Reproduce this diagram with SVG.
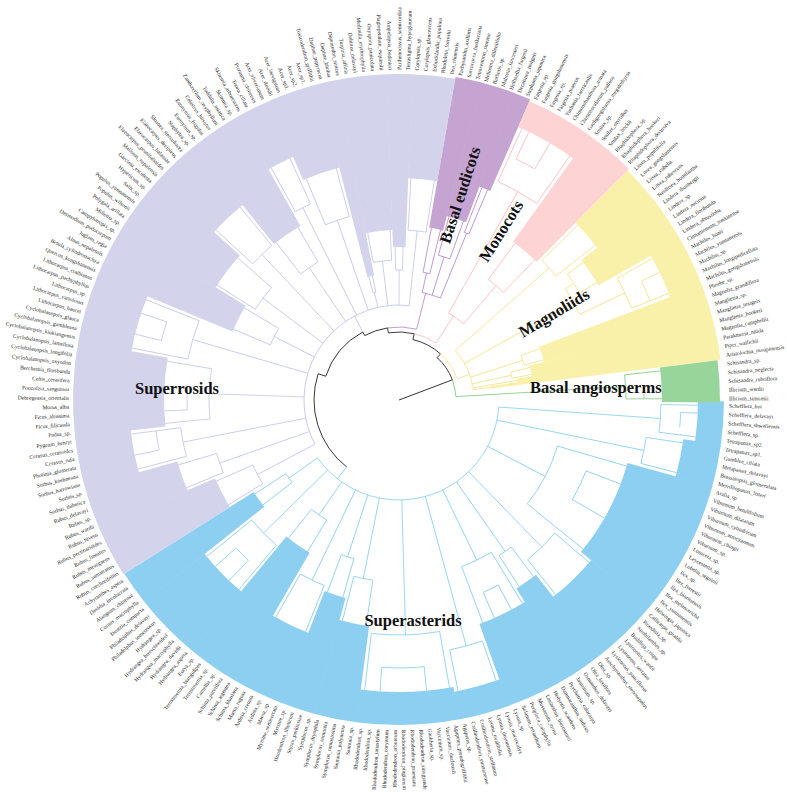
<svg xmlns="http://www.w3.org/2000/svg" width="787" height="795" viewBox="0 0 787 795">
<style>
.zb{fill:none;stroke:#8dcff0}
.zl{fill:none;stroke:#d3d3ec}
.zp{fill:none;stroke:#c6a4d1}
.zk{fill:none;stroke:#fdd3d4}
.zy{fill:none;stroke:#f9f0aa}
.zg{fill:none;stroke:#98d59a}
.e line,.e circle{fill:none;stroke-width:0.8}
.kb{stroke:#86cdef}
.kl{stroke:#c4c5ea}
.kp{stroke:#b48ccc}
.kk{stroke:#fbbcbd}
.ky{stroke:#f2e38c}
.kg{stroke:#7ec980}
.k0{stroke:#1a1a1a}
.tl text{font-family:"Liberation Serif","Times New Roman",serif;font-size:5.6px;fill:#262626;dominant-baseline:central}
.tl text.l{text-anchor:end}
.cl{font-family:"Liberation Serif","Times New Roman",serif;font-weight:bold;font-size:16.5px;fill:#111}
</style>
<rect width="787" height="795" fill="#fff"/>
<g transform="translate(399,400)">
<g id="clade-superasterids">
<circle class="zb" r="312" stroke-width="26" pathLength="360" stroke-dasharray="7.7 999" transform="rotate(0.24)"/>
<circle class="zb" r="306" stroke-width="38" pathLength="360" stroke-dasharray="7.7 999" transform="rotate(7.84)"/>
<circle class="zb" r="281" stroke-width="88" pathLength="360" stroke-dasharray="24.42 999" transform="rotate(15.44)"/>
<circle class="zb" r="287.5" stroke-width="75" pathLength="360" stroke-dasharray="12.26 999" transform="rotate(39.76)"/>
<circle class="zb" r="273.5" stroke-width="103" pathLength="360" stroke-dasharray="6.18 999" transform="rotate(51.92)"/>
<circle class="zb" r="281.5" stroke-width="87" pathLength="360" stroke-dasharray="12.26 999" transform="rotate(58)"/>
<circle class="zb" r="311" stroke-width="28" pathLength="360" stroke-dasharray="9.22 999" transform="rotate(70.16)"/>
<circle class="zb" r="308.5" stroke-width="33" pathLength="360" stroke-dasharray="18.34 999" transform="rotate(79.28)"/>
<circle class="zb" r="276.5" stroke-width="97" pathLength="360" stroke-dasharray="7.7 999" transform="rotate(97.52)"/>
<circle class="zb" r="265" stroke-width="120" pathLength="360" stroke-dasharray="6.18 999" transform="rotate(105.12)"/>
<circle class="zb" r="287.5" stroke-width="75" pathLength="360" stroke-dasharray="9.22 999" transform="rotate(111.2)"/>
<circle class="zb" r="251" stroke-width="148" pathLength="360" stroke-dasharray="9.22 999" transform="rotate(120.32)"/>
<circle class="zb" r="286.5" stroke-width="77" pathLength="360" stroke-dasharray="12.26 999" transform="rotate(129.44)"/>
<circle class="zb" r="248.5" stroke-width="153" pathLength="360" stroke-dasharray="6.08 999" transform="rotate(141.6)"/>
</g>
<g id="clade-superrosids">
<circle class="zl" r="263" stroke-width="126" pathLength="360" stroke-dasharray="9.22 999" transform="rotate(147.68)"/>
<circle class="zl" r="278" stroke-width="96" pathLength="360" stroke-dasharray="7.7 999" transform="rotate(156.8)"/>
<circle class="zl" r="298" stroke-width="56" pathLength="360" stroke-dasharray="9.22 999" transform="rotate(164.4)"/>
<circle class="zl" r="280.5" stroke-width="91" pathLength="360" stroke-dasharray="16.82 999" transform="rotate(173.52)"/>
<circle class="zl" r="299" stroke-width="54" pathLength="360" stroke-dasharray="12.26 999" transform="rotate(190.24)"/>
<circle class="zl" r="253" stroke-width="146" pathLength="360" stroke-dasharray="9.22 999" transform="rotate(202.4)"/>
<circle class="zl" r="270.5" stroke-width="111" pathLength="360" stroke-dasharray="10.74 999" transform="rotate(211.52)"/>
<circle class="zl" r="288" stroke-width="76" pathLength="360" stroke-dasharray="9.22 999" transform="rotate(222.16)"/>
<circle class="zl" r="263" stroke-width="126" pathLength="360" stroke-dasharray="9.22 999" transform="rotate(231.28)"/>
<circle class="zl" r="295.5" stroke-width="61" pathLength="360" stroke-dasharray="6.18 999" transform="rotate(240.4)"/>
<circle class="zl" r="283" stroke-width="86" pathLength="360" stroke-dasharray="9.22 999" transform="rotate(246.48)"/>
<circle class="zl" r="226.5" stroke-width="199" pathLength="360" stroke-dasharray="3.14 999" transform="rotate(255.6)"/>
<circle class="zl" r="248" stroke-width="156" pathLength="360" stroke-dasharray="9.22 999" transform="rotate(258.64)"/>
<circle class="zl" r="239.5" stroke-width="173" pathLength="360" stroke-dasharray="4.66 999" transform="rotate(267.76)"/>
<circle class="zl" r="274" stroke-width="104" pathLength="360" stroke-dasharray="7.6 999" transform="rotate(272.32)"/>
</g>
<g id="clade-basal-eudicots">
<circle class="zp" r="251.5" stroke-width="153" pathLength="360" stroke-dasharray="4.66 999" transform="rotate(279.92)"/>
<circle class="zp" r="259" stroke-width="138" pathLength="360" stroke-dasharray="6.18 999" transform="rotate(284.48)"/>
<circle class="zp" r="278" stroke-width="100" pathLength="360" stroke-dasharray="3.04 999" transform="rotate(290.56)"/>
</g>
<g id="clade-monocots">
<circle class="zk" r="312" stroke-width="28" pathLength="360" stroke-dasharray="12.26 999" transform="rotate(293.6)"/>
<circle class="zk" r="260.5" stroke-width="131" pathLength="360" stroke-dasharray="9.12 999" transform="rotate(305.76)"/>
</g>
<g id="clade-magnoliids">
<circle class="zy" r="287" stroke-width="74" pathLength="360" stroke-dasharray="7.7 999" transform="rotate(314.88)"/>
<circle class="zy" r="277" stroke-width="94" pathLength="360" stroke-dasharray="7.7 999" transform="rotate(322.48)"/>
<circle class="zy" r="307" stroke-width="34" pathLength="360" stroke-dasharray="9.22 999" transform="rotate(330.08)"/>
<circle class="zy" r="237" stroke-width="174" pathLength="360" stroke-dasharray="6.18 999" transform="rotate(339.2)"/>
<circle class="zy" r="229.5" stroke-width="189" pathLength="360" stroke-dasharray="4.66 999" transform="rotate(345.28)"/>
<circle class="zy" r="222" stroke-width="204" pathLength="360" stroke-dasharray="1.62 999" transform="rotate(349.84)"/>
<circle class="zy" r="208.5" stroke-width="231" pathLength="360" stroke-dasharray="1.52 999" transform="rotate(351.36)"/>
</g>
<g id="clade-basal-angiosperms">
<circle class="zg" r="292" stroke-width="58" pathLength="360" stroke-dasharray="7.6 999" transform="rotate(352.88)"/>
</g>
<g id="edges" class="e">
<line class="k0" x1="0" x2="57" transform="rotate(339.3)"/>
<circle class="k0" r="57" pathLength="360" stroke-dasharray="27.3 999" transform="rotate(312)"/>
<line class="k0" x1="57" x2="62" transform="rotate(312)"/>
<circle class="k0" r="62" pathLength="360" stroke-dasharray="29 999" transform="rotate(283)"/>
<line class="k0" x1="62" x2="68" transform="rotate(283)"/>
<circle class="k0" r="68" pathLength="360" stroke-dasharray="22 999" transform="rotate(261)"/>
<line class="k0" x1="68" x2="73" transform="rotate(261)"/>
<circle class="k0" r="73" pathLength="360" stroke-dasharray="19 999" transform="rotate(242)"/>
<line class="k0" x1="73" x2="77" transform="rotate(242)"/>
<circle class="k0" r="77" pathLength="360" stroke-dasharray="44 999" transform="rotate(198)"/>
<line class="k0" x1="77" x2="85" transform="rotate(198)"/>
<circle class="k0" r="85" pathLength="360" stroke-dasharray="70 999" transform="rotate(128)"/>
<circle class="kg" r="57" pathLength="360" stroke-dasharray="17.3 999" transform="rotate(339.3)"/>
<line class="kg" x1="57" x2="227" transform="rotate(356.6)"/>
<circle class="kg" r="227" pathLength="360" stroke-dasharray="6.08 999" transform="rotate(353.64)"/>
<line class="kg" x1="227" x2="263" transform="rotate(353.64)"/>
<line class="kg" x1="227" x2="263" transform="rotate(359.72)"/>
<circle class="kg" r="245" pathLength="360" stroke-dasharray="3.04 999" transform="rotate(356.68)"/>
<circle class="ky" r="62" pathLength="360" stroke-dasharray="28 999" transform="rotate(312)"/>
<line class="ky" x1="62" x2="75" transform="rotate(340)"/>
<circle class="ky" r="75" pathLength="360" stroke-dasharray="33.44 999" transform="rotate(318.68)"/>
<line class="ky" x1="75" x2="200" transform="rotate(318.68)"/>
<circle class="ky" r="200" pathLength="360" stroke-dasharray="6.08 999" transform="rotate(315.64)"/>
<line class="ky" x1="200" x2="250" transform="rotate(315.64)"/>
<line class="ky" x1="200" x2="250" transform="rotate(321.72)"/>
<line class="ky" x1="75" x2="200" transform="rotate(330.84)"/>
<circle class="ky" r="200" pathLength="360" stroke-dasharray="8.36 999" transform="rotate(326.28)"/>
<line class="ky" x1="200" x2="210" transform="rotate(326.28)"/>
<circle class="ky" r="210" pathLength="360" stroke-dasharray="6.08 999" transform="rotate(323.24)"/>
<line class="ky" x1="210" x2="230" transform="rotate(323.24)"/>
<line class="ky" x1="210" x2="230" transform="rotate(329.32)"/>
<line class="ky" x1="200" x2="250" transform="rotate(334.64)"/>
<circle class="ky" r="250" pathLength="360" stroke-dasharray="7.6 999" transform="rotate(330.84)"/>
<line class="ky" x1="250" x2="290" transform="rotate(330.84)"/>
<line class="ky" x1="250" x2="290" transform="rotate(338.44)"/>
<circle class="ky" r="270" pathLength="360" stroke-dasharray="4.56 999" transform="rotate(333.88)"/>
<line class="ky" x1="270" x2="290" transform="rotate(333.88)"/>
<line class="ky" x1="75" x2="130" transform="rotate(342.24)"/>
<circle class="ky" r="130" pathLength="360" stroke-dasharray="4.56 999" transform="rotate(339.96)"/>
<line class="ky" x1="130" x2="150" transform="rotate(339.96)"/>
<line class="ky" x1="130" x2="150" transform="rotate(344.52)"/>
<line class="ky" x1="75" x2="115" transform="rotate(347.56)"/>
<circle class="ky" r="115" pathLength="360" stroke-dasharray="3.04 999" transform="rotate(346.04)"/>
<line class="ky" x1="115" x2="135" transform="rotate(346.04)"/>
<line class="ky" x1="115" x2="135" transform="rotate(349.08)"/>
<line class="ky" x1="75" x2="120" transform="rotate(350.6)"/>
<line class="ky" x1="75" x2="93" transform="rotate(352.12)"/>
<circle class="kk" r="68" pathLength="360" stroke-dasharray="20 999" transform="rotate(283)"/>
<line class="kk" x1="68" x2="100" transform="rotate(303)"/>
<circle class="kk" r="100" pathLength="360" stroke-dasharray="10.64 999" transform="rotate(299.68)"/>
<line class="kk" x1="100" x2="240" transform="rotate(299.68)"/>
<circle class="kk" r="240" pathLength="360" stroke-dasharray="10.64 999" transform="rotate(294.36)"/>
<line class="kk" x1="240" x2="298" transform="rotate(294.36)"/>
<line class="kk" x1="240" x2="298" transform="rotate(305)"/>
<circle class="kk" r="268" pathLength="360" stroke-dasharray="4.56 999" transform="rotate(295.88)"/>
<line class="kk" x1="268" x2="298" transform="rotate(295.88)"/>
<line class="kk" x1="268" x2="298" transform="rotate(300.44)"/>
<line class="kk" x1="100" x2="150" transform="rotate(310.32)"/>
<circle class="kk" r="150" pathLength="360" stroke-dasharray="7.6 999" transform="rotate(306.52)"/>
<line class="kk" x1="150" x2="195" transform="rotate(306.52)"/>
<line class="kk" x1="150" x2="195" transform="rotate(314.12)"/>
<circle class="kp" r="73" pathLength="360" stroke-dasharray="23 999" transform="rotate(261)"/>
<line class="kp" x1="73" x2="110" transform="rotate(284)"/>
<circle class="kp" r="110" pathLength="360" stroke-dasharray="9.88 999" transform="rotate(282.2)"/>
<line class="kp" x1="110" x2="130" transform="rotate(282.2)"/>
<circle class="kp" r="130" pathLength="360" stroke-dasharray="3.04 999" transform="rotate(280.68)"/>
<line class="kp" x1="130" x2="175" transform="rotate(280.68)"/>
<line class="kp" x1="130" x2="175" transform="rotate(283.72)"/>
<line class="kp" x1="110" x2="150" transform="rotate(287.52)"/>
<circle class="kp" r="150" pathLength="360" stroke-dasharray="4.56 999" transform="rotate(285.24)"/>
<line class="kp" x1="150" x2="190" transform="rotate(285.24)"/>
<line class="kp" x1="150" x2="190" transform="rotate(289.8)"/>
<line class="kp" x1="110" x2="180" transform="rotate(292.08)"/>
<circle class="kp" r="180" pathLength="360" stroke-dasharray="1.52 999" transform="rotate(291.32)"/>
<line class="kp" x1="180" x2="228" transform="rotate(291.32)"/>
<line class="kp" x1="180" x2="228" transform="rotate(292.84)"/>
<line class="kl" x1="77" x2="95" transform="rotate(242)"/>
<circle class="kl" r="95" pathLength="360" stroke-dasharray="123.88 999" transform="rotate(152.24)"/>
<line class="kl" x1="95" x2="160" transform="rotate(152.24)"/>
<circle class="kl" r="160" pathLength="360" stroke-dasharray="7.6 999" transform="rotate(148.44)"/>
<line class="kl" x1="160" x2="200" transform="rotate(148.44)"/>
<line class="kl" x1="160" x2="200" transform="rotate(156.04)"/>
<line class="kl" x1="95" x2="190" transform="rotate(160.6)"/>
<circle class="kl" r="190" pathLength="360" stroke-dasharray="6.08 999" transform="rotate(157.56)"/>
<line class="kl" x1="190" x2="230" transform="rotate(157.56)"/>
<line class="kl" x1="190" x2="230" transform="rotate(163.64)"/>
<line class="kl" x1="95" x2="220" transform="rotate(168.96)"/>
<circle class="kl" r="220" pathLength="360" stroke-dasharray="7.6 999" transform="rotate(165.16)"/>
<line class="kl" x1="220" x2="270" transform="rotate(165.16)"/>
<line class="kl" x1="220" x2="270" transform="rotate(172.76)"/>
<circle class="kl" r="245" pathLength="360" stroke-dasharray="4.56 999" transform="rotate(168.2)"/>
<line class="kl" x1="245" x2="270" transform="rotate(168.2)"/>
<line class="kl" x1="95" x2="190" transform="rotate(181.88)"/>
<circle class="kl" r="190" pathLength="360" stroke-dasharray="15.2 999" transform="rotate(174.28)"/>
<line class="kl" x1="190" x2="235" transform="rotate(174.28)"/>
<line class="kl" x1="190" x2="235" transform="rotate(189.48)"/>
<circle class="kl" r="212" pathLength="360" stroke-dasharray="6.08 999" transform="rotate(177.32)"/>
<line class="kl" x1="212" x2="235" transform="rotate(177.32)"/>
<line class="kl" x1="212" x2="235" transform="rotate(183.4)"/>
<line class="kl" x1="95" x2="215" transform="rotate(196.32)"/>
<circle class="kl" r="215" pathLength="360" stroke-dasharray="10.64 999" transform="rotate(191)"/>
<line class="kl" x1="215" x2="272" transform="rotate(191)"/>
<line class="kl" x1="215" x2="272" transform="rotate(201.64)"/>
<circle class="kl" r="245" pathLength="360" stroke-dasharray="4.56 999" transform="rotate(194.04)"/>
<line class="kl" x1="245" x2="272" transform="rotate(194.04)"/>
<line class="kl" x1="245" x2="272" transform="rotate(198.6)"/>
<line class="kl" x1="95" x2="140" transform="rotate(206.96)"/>
<circle class="kl" r="140" pathLength="360" stroke-dasharray="7.6 999" transform="rotate(203.16)"/>
<line class="kl" x1="140" x2="180" transform="rotate(203.16)"/>
<line class="kl" x1="140" x2="180" transform="rotate(210.76)"/>
<line class="kl" x1="95" x2="170" transform="rotate(216.84)"/>
<circle class="kl" r="170" pathLength="360" stroke-dasharray="9.12 999" transform="rotate(212.28)"/>
<line class="kl" x1="170" x2="215" transform="rotate(212.28)"/>
<line class="kl" x1="170" x2="215" transform="rotate(221.4)"/>
<line class="kl" x1="95" x2="200" transform="rotate(226.72)"/>
<circle class="kl" r="200" pathLength="360" stroke-dasharray="7.6 999" transform="rotate(222.92)"/>
<line class="kl" x1="200" x2="250" transform="rotate(222.92)"/>
<line class="kl" x1="200" x2="250" transform="rotate(230.52)"/>
<line class="kl" x1="95" x2="160" transform="rotate(235.84)"/>
<circle class="kl" r="160" pathLength="360" stroke-dasharray="7.6 999" transform="rotate(232.04)"/>
<line class="kl" x1="160" x2="200" transform="rotate(232.04)"/>
<line class="kl" x1="160" x2="200" transform="rotate(239.64)"/>
<line class="kl" x1="95" x2="215" transform="rotate(243.44)"/>
<circle class="kl" r="215" pathLength="360" stroke-dasharray="4.56 999" transform="rotate(241.16)"/>
<line class="kl" x1="215" x2="265" transform="rotate(241.16)"/>
<line class="kl" x1="215" x2="265" transform="rotate(245.72)"/>
<line class="kl" x1="95" x2="190" transform="rotate(251.04)"/>
<circle class="kl" r="190" pathLength="360" stroke-dasharray="7.6 999" transform="rotate(247.24)"/>
<line class="kl" x1="190" x2="240" transform="rotate(247.24)"/>
<line class="kl" x1="190" x2="240" transform="rotate(254.84)"/>
<line class="kl" x1="95" x2="110" transform="rotate(257.12)"/>
<circle class="kl" r="110" pathLength="360" stroke-dasharray="1.52 999" transform="rotate(256.36)"/>
<line class="kl" x1="110" x2="127" transform="rotate(256.36)"/>
<line class="kl" x1="110" x2="127" transform="rotate(257.88)"/>
<line class="kl" x1="95" x2="140" transform="rotate(263.2)"/>
<circle class="kl" r="140" pathLength="360" stroke-dasharray="7.6 999" transform="rotate(259.4)"/>
<line class="kl" x1="140" x2="170" transform="rotate(259.4)"/>
<line class="kl" x1="140" x2="170" transform="rotate(267)"/>
<line class="kl" x1="95" x2="130" transform="rotate(270.04)"/>
<circle class="kl" r="130" pathLength="360" stroke-dasharray="3.04 999" transform="rotate(268.52)"/>
<line class="kl" x1="130" x2="153" transform="rotate(268.52)"/>
<line class="kl" x1="130" x2="153" transform="rotate(271.56)"/>
<line class="kl" x1="95" x2="170" transform="rotate(276.12)"/>
<circle class="kl" r="170" pathLength="360" stroke-dasharray="6.08 999" transform="rotate(273.08)"/>
<line class="kl" x1="170" x2="222" transform="rotate(273.08)"/>
<line class="kl" x1="170" x2="222" transform="rotate(279.16)"/>
<line class="kb" x1="85" x2="100" transform="rotate(128)"/>
<circle class="kb" r="100" pathLength="360" stroke-dasharray="140.6 999" transform="rotate(4.04)"/>
<line class="kb" x1="100" x2="262" transform="rotate(4.04)"/>
<circle class="kb" r="262" pathLength="360" stroke-dasharray="6.08 999" transform="rotate(1)"/>
<line class="kb" x1="262" x2="299" transform="rotate(1)"/>
<line class="kb" x1="262" x2="299" transform="rotate(7.08)"/>
<circle class="kb" r="282" pathLength="360" stroke-dasharray="3.04 999" transform="rotate(2.52)"/>
<line class="kb" x1="282" x2="299" transform="rotate(2.52)"/>
<line class="kb" x1="100" x2="250" transform="rotate(11.64)"/>
<circle class="kb" r="250" pathLength="360" stroke-dasharray="6.08 999" transform="rotate(8.6)"/>
<line class="kb" x1="250" x2="287" transform="rotate(8.6)"/>
<line class="kb" x1="250" x2="287" transform="rotate(14.68)"/>
<line class="kb" x1="100" x2="165" transform="rotate(27.6)"/>
<circle class="kb" r="165" pathLength="360" stroke-dasharray="22.8 999" transform="rotate(16.2)"/>
<line class="kb" x1="165" x2="237" transform="rotate(16.2)"/>
<line class="kb" x1="165" x2="237" transform="rotate(39)"/>
<circle class="kb" r="200" pathLength="360" stroke-dasharray="9.12 999" transform="rotate(20.76)"/>
<line class="kb" x1="200" x2="237" transform="rotate(20.76)"/>
<line class="kb" x1="200" x2="237" transform="rotate(29.88)"/>
<line class="kb" x1="100" x2="205" transform="rotate(45.84)"/>
<circle class="kb" r="205" pathLength="360" stroke-dasharray="10.64 999" transform="rotate(40.52)"/>
<line class="kb" x1="205" x2="250" transform="rotate(40.52)"/>
<line class="kb" x1="205" x2="250" transform="rotate(51.16)"/>
<line class="kb" x1="100" x2="185" transform="rotate(54.96)"/>
<circle class="kb" r="185" pathLength="360" stroke-dasharray="4.56 999" transform="rotate(52.68)"/>
<line class="kb" x1="185" x2="222" transform="rotate(52.68)"/>
<line class="kb" x1="185" x2="222" transform="rotate(57.24)"/>
<line class="kb" x1="100" x2="178" transform="rotate(64.08)"/>
<circle class="kb" r="178" pathLength="360" stroke-dasharray="10.64 999" transform="rotate(58.76)"/>
<line class="kb" x1="178" x2="238" transform="rotate(58.76)"/>
<line class="kb" x1="178" x2="238" transform="rotate(69.4)"/>
<circle class="kb" r="210" pathLength="360" stroke-dasharray="4.56 999" transform="rotate(61.8)"/>
<line class="kb" x1="210" x2="238" transform="rotate(61.8)"/>
<line class="kb" x1="210" x2="238" transform="rotate(66.36)"/>
<line class="kb" x1="100" x2="255" transform="rotate(74.72)"/>
<circle class="kb" r="255" pathLength="360" stroke-dasharray="7.6 999" transform="rotate(70.92)"/>
<line class="kb" x1="255" x2="297" transform="rotate(70.92)"/>
<line class="kb" x1="255" x2="297" transform="rotate(78.52)"/>
<line class="kb" x1="100" x2="235" transform="rotate(88.4)"/>
<circle class="kb" r="235" pathLength="360" stroke-dasharray="16.72 999" transform="rotate(80.04)"/>
<line class="kb" x1="235" x2="292" transform="rotate(80.04)"/>
<line class="kb" x1="235" x2="292" transform="rotate(96.76)"/>
<circle class="kb" r="268" pathLength="360" stroke-dasharray="9.12 999" transform="rotate(84.6)"/>
<line class="kb" x1="268" x2="292" transform="rotate(84.6)"/>
<line class="kb" x1="268" x2="292" transform="rotate(93.72)"/>
<line class="kb" x1="100" x2="182" transform="rotate(101.32)"/>
<circle class="kb" r="182" pathLength="360" stroke-dasharray="6.08 999" transform="rotate(98.28)"/>
<line class="kb" x1="182" x2="228" transform="rotate(98.28)"/>
<line class="kb" x1="182" x2="228" transform="rotate(104.36)"/>
<line class="kb" x1="100" x2="165" transform="rotate(108.16)"/>
<circle class="kb" r="165" pathLength="360" stroke-dasharray="4.56 999" transform="rotate(105.88)"/>
<line class="kb" x1="165" x2="205" transform="rotate(105.88)"/>
<line class="kb" x1="165" x2="205" transform="rotate(110.44)"/>
<line class="kb" x1="100" x2="200" transform="rotate(115.76)"/>
<circle class="kb" r="200" pathLength="360" stroke-dasharray="7.6 999" transform="rotate(111.96)"/>
<line class="kb" x1="200" x2="250" transform="rotate(111.96)"/>
<line class="kb" x1="200" x2="250" transform="rotate(119.56)"/>
<line class="kb" x1="100" x2="140" transform="rotate(124.88)"/>
<circle class="kb" r="140" pathLength="360" stroke-dasharray="7.6 999" transform="rotate(121.08)"/>
<line class="kb" x1="140" x2="177" transform="rotate(121.08)"/>
<line class="kb" x1="140" x2="177" transform="rotate(128.68)"/>
<line class="kb" x1="100" x2="190" transform="rotate(135.52)"/>
<circle class="kb" r="190" pathLength="360" stroke-dasharray="10.64 999" transform="rotate(130.2)"/>
<line class="kb" x1="190" x2="248" transform="rotate(130.2)"/>
<line class="kb" x1="190" x2="248" transform="rotate(140.84)"/>
<circle class="kb" r="220" pathLength="360" stroke-dasharray="4.56 999" transform="rotate(133.24)"/>
<line class="kb" x1="220" x2="248" transform="rotate(133.24)"/>
<line class="kb" x1="220" x2="248" transform="rotate(137.8)"/>
<line class="kb" x1="100" x2="135" transform="rotate(144.64)"/>
<circle class="kb" r="135" pathLength="360" stroke-dasharray="4.56 999" transform="rotate(142.36)"/>
<line class="kb" x1="135" x2="172" transform="rotate(142.36)"/>
<line class="kb" x1="135" x2="172" transform="rotate(146.92)"/>
</g>
<g id="tips" class="tl">
<text transform="rotate(1) translate(330)">Schefflera_hoi</text>
<text transform="rotate(2.52) translate(330)">Schefflera_delavayi</text>
<text transform="rotate(4.04) translate(330)">Schefflera_shweliensis</text>
<text transform="rotate(5.56) translate(330)">Schefflera_sp.</text>
<text transform="rotate(7.08) translate(330)">Tetrapanax_sp2.</text>
<text transform="rotate(8.6) translate(330)">Tetrapanax_sp1.</text>
<text transform="rotate(10.12) translate(330)">Gamblea_ciliata</text>
<text transform="rotate(11.64) translate(330)">Metapanax_delavayi</text>
<text transform="rotate(13.16) translate(330)">Brassaiopsis_glomerulata</text>
<text transform="rotate(14.68) translate(330)">Merrilliopanax_listeri</text>
<text transform="rotate(16.2) translate(330)">Aralia_sp.</text>
<text transform="rotate(17.72) translate(330)">Viburnum_betulifolium</text>
<text transform="rotate(19.24) translate(330)">Viburnum_dilatatum</text>
<text transform="rotate(20.76) translate(330)">Viburnum_cylindricum</text>
<text transform="rotate(22.28) translate(330)">Viburnum_atrocyaneum</text>
<text transform="rotate(23.8) translate(330)">Viburnum_chingii</text>
<text transform="rotate(25.32) translate(330)">Viburnum_sp.</text>
<text transform="rotate(26.84) translate(330)">Lonicera_sp.</text>
<text transform="rotate(28.36) translate(330)">Leycesteria_sp.</text>
<text transform="rotate(29.88) translate(330)">Lobelia_seguinii</text>
<text transform="rotate(31.4) translate(330)">Ilex_sp.</text>
<text transform="rotate(32.92) translate(330)">Ilex_forrestii</text>
<text transform="rotate(34.44) translate(330)">Ilex_bioritsensis</text>
<text transform="rotate(35.96) translate(330)">Ilex_melanotricha</text>
<text transform="rotate(37.48) translate(330)">Ilex_yunnanensis</text>
<text transform="rotate(39) translate(330)">Helwingia_japonica</text>
<text transform="rotate(40.52) translate(330)">Callicarpa_giraldii</text>
<text transform="rotate(42.04) translate(330)">Brandisia_sp.</text>
<text transform="rotate(43.56) translate(330)">Strobilanthes_sp.</text>
<text transform="rotate(45.08) translate(330)">Buddleja_crispa</text>
<text transform="rotate(46.6) translate(330)">Lysionotus_wardii</text>
<text transform="rotate(48.12) translate(330)">Lysionotus_serratus</text>
<text transform="rotate(49.64) translate(330)">Lysionotus_pauciflorus</text>
<text transform="rotate(51.16) translate(330)">Aeschynanthus_stenosepalus</text>
<text transform="rotate(52.68) translate(330)">Olea_sp.</text>
<text transform="rotate(54.2) translate(330)">Olea_laxiflora</text>
<text transform="rotate(55.72) translate(330)">Osmanthus_delavayi</text>
<text transform="rotate(57.24) translate(330)">Jasminum_sp.</text>
<text transform="rotate(58.76) translate(330)">Psychotria_calocarpa</text>
<text transform="rotate(60.28) translate(330)">Damnacanthus_indicus</text>
<text transform="rotate(61.8) translate(330)">Hedyotis_scandens</text>
<text transform="rotate(63.32) translate(330)">Lasianthus_biermannii</text>
<text transform="rotate(64.84) translate(330)">Mussaenda_erosa</text>
<text transform="rotate(66.36) translate(330)">Periploca_calophylla</text>
<text transform="rotate(67.88) translate(330)">Solanum_erianthum</text>
<text transform="rotate(69.4) translate(330)">Lyonia_sp.</text>
<text transform="rotate(70.92) translate(330)">Lyonia_macrocalyx</text>
<text transform="rotate(72.44) translate(330)">Lyonia_doyonensis</text>
<text transform="rotate(73.96) translate(330)">Lyonia_ovalifolia</text>
<text transform="rotate(75.48) translate(330)">Craibiodendron_stellatum</text>
<text transform="rotate(77) translate(330)">Craibiodendron_yunnanense</text>
<text transform="rotate(78.52) translate(330)">Agapetes_sp.</text>
<text transform="rotate(80.04) translate(330)">Agapetes_pseudogriffithii</text>
<text transform="rotate(81.56) translate(330)">Vaccinium_duclouxii</text>
<text transform="rotate(83.08) translate(330)">Vaccinium_sp.</text>
<text transform="rotate(84.6) translate(330)">Gaultheria_sp.</text>
<text transform="rotate(86.12) translate(330)">Rhododendron_sinogrande</text>
<text transform="rotate(87.64) translate(330)">Rhododendron_praestans</text>
<text transform="rotate(89.16) translate(330)">Rhododendron_pingianum</text>
<text class="l" transform="rotate(90.68) translate(330) rotate(180)">Rhododendron_arboreum</text>
<text class="l" transform="rotate(92.2) translate(330) rotate(180)">Rhododendron_coryanum</text>
<text class="l" transform="rotate(93.72) translate(330) rotate(180)">Rhododendron_tanastylum</text>
<text class="l" transform="rotate(95.24) translate(330) rotate(180)">Rhododendron_sp.</text>
<text class="l" transform="rotate(96.76) translate(330) rotate(180)">Rhododendron_sp.</text>
<text class="l" transform="rotate(98.28) translate(330) rotate(180)">Saurauia_sp.</text>
<text class="l" transform="rotate(99.8) translate(330) rotate(180)">Saurauia_polyneura</text>
<text class="l" transform="rotate(101.32) translate(330) rotate(180)">Symplocos_ramosissima</text>
<text class="l" transform="rotate(102.84) translate(330) rotate(180)">Symplocos_sumuntia</text>
<text class="l" transform="rotate(104.36) translate(330) rotate(180)">Symplocos_dryophila</text>
<text class="l" transform="rotate(105.88) translate(330) rotate(180)">Symplocos_sp.</text>
<text class="l" transform="rotate(107.4) translate(330) rotate(180)">Styrax_perkinsiae</text>
<text class="l" transform="rotate(108.92) translate(330) rotate(180)">Huodendron_tibeticum</text>
<text class="l" transform="rotate(110.44) translate(330) rotate(180)">Myrsine_sp.</text>
<text class="l" transform="rotate(111.96) translate(330) rotate(180)">Myrsine_semiserrata</text>
<text class="l" transform="rotate(113.48) translate(330) rotate(180)">Maesa_sp.</text>
<text class="l" transform="rotate(115) translate(330) rotate(180)">Ardisia_sp.</text>
<text class="l" transform="rotate(116.52) translate(330) rotate(180)">Ardisia_crenata</text>
<text class="l" transform="rotate(118.04) translate(330) rotate(180)">Maesa_rugosa</text>
<text class="l" transform="rotate(119.56) translate(330) rotate(180)">Schima_khasiana</text>
<text class="l" transform="rotate(121.08) translate(330) rotate(180)">Schima_argentea</text>
<text class="l" transform="rotate(122.6) translate(330) rotate(180)">Schima_parviflora</text>
<text class="l" transform="rotate(124.12) translate(330) rotate(180)">Camellia_sp.</text>
<text class="l" transform="rotate(125.64) translate(330) rotate(180)">Ternstroemia_sp.</text>
<text class="l" transform="rotate(127.16) translate(330) rotate(180)">Ternstroemia_biangulipes</text>
<text class="l" transform="rotate(128.68) translate(330) rotate(180)">Eurya_sp.</text>
<text class="l" transform="rotate(130.2) translate(330) rotate(180)">Hydrangea_aspera</text>
<text class="l" transform="rotate(131.72) translate(330) rotate(180)">Hydrangea_davidii</text>
<text class="l" transform="rotate(133.24) translate(330) rotate(180)">Hydrangea_macrophylla</text>
<text class="l" transform="rotate(134.76) translate(330) rotate(180)">Hydrangea_bretschneideri</text>
<text class="l" transform="rotate(136.28) translate(330) rotate(180)">Hydrangea_sp.</text>
<text class="l" transform="rotate(137.8) translate(330) rotate(180)">Philadelphus_tomentosus</text>
<text class="l" transform="rotate(139.32) translate(330) rotate(180)">Philadelphus_delavayi</text>
<text class="l" transform="rotate(140.84) translate(330) rotate(180)">Deutzia_compacta</text>
<text class="l" transform="rotate(142.36) translate(330) rotate(180)">Cornus_macrophylla</text>
<text class="l" transform="rotate(143.88) translate(330) rotate(180)">Alangium_chinense</text>
<text class="l" transform="rotate(145.4) translate(330) rotate(180)">Davidia_involucrata</text>
<text class="l" transform="rotate(146.92) translate(330) rotate(180)">Achyranthes_aspera</text>
<text class="l" transform="rotate(148.44) translate(330) rotate(180)">Rubus_corchorifolius</text>
<text class="l" transform="rotate(149.96) translate(330) rotate(180)">Rubus_sumatranus</text>
<text class="l" transform="rotate(151.48) translate(330) rotate(180)">Rubus_mesogaeus</text>
<text class="l" transform="rotate(153) translate(330) rotate(180)">Rubus_lineatus</text>
<text class="l" transform="rotate(154.52) translate(330) rotate(180)">Rubus_pectinarioides</text>
<text class="l" transform="rotate(156.04) translate(330) rotate(180)">Rubus_niveus</text>
<text class="l" transform="rotate(157.56) translate(330) rotate(180)">Rubus_wardii</text>
<text class="l" transform="rotate(159.08) translate(330) rotate(180)">Rubus_sp.</text>
<text class="l" transform="rotate(160.6) translate(330) rotate(180)">Rubus_delavayi</text>
<text class="l" transform="rotate(162.12) translate(330) rotate(180)">Sorbus_thibetica</text>
<text class="l" transform="rotate(163.64) translate(330) rotate(180)">Sorbus_sp.</text>
<text class="l" transform="rotate(165.16) translate(330) rotate(180)">Sorbus_harrowiana</text>
<text class="l" transform="rotate(166.68) translate(330) rotate(180)">Sorbus_koehneana</text>
<text class="l" transform="rotate(168.2) translate(330) rotate(180)">Photinia_glomerata</text>
<text class="l" transform="rotate(169.72) translate(330) rotate(180)">Cerasus_rufa</text>
<text class="l" transform="rotate(171.24) translate(330) rotate(180)">Cerasus_cerasoides</text>
<text class="l" transform="rotate(172.76) translate(330) rotate(180)">Pygeum_henryi</text>
<text class="l" transform="rotate(174.28) translate(330) rotate(180)">Padus_sp.</text>
<text class="l" transform="rotate(175.8) translate(330) rotate(180)">Ficus_filicauda</text>
<text class="l" transform="rotate(177.32) translate(330) rotate(180)">Ficus_altissima</text>
<text class="l" transform="rotate(178.84) translate(330) rotate(180)">Morus_alba</text>
<text class="l" transform="rotate(180.36) translate(330) rotate(180)">Debregeasia_orientalis</text>
<text class="l" transform="rotate(181.88) translate(330) rotate(180)">Pouzolzia_sanguinea</text>
<text class="l" transform="rotate(183.4) translate(330) rotate(180)">Celtis_cerasifera</text>
<text class="l" transform="rotate(184.92) translate(330) rotate(180)">Berchemia_floribunda</text>
<text class="l" transform="rotate(186.44) translate(330) rotate(180)">Cyclobalanopsis_oxyodon</text>
<text class="l" transform="rotate(187.96) translate(330) rotate(180)">Cyclobalanopsis_longifolia</text>
<text class="l" transform="rotate(189.48) translate(330) rotate(180)">Cyclobalanopsis_lamellosa</text>
<text class="l" transform="rotate(191) translate(330) rotate(180)">Cyclobalanopsis_kiukiangensis</text>
<text class="l" transform="rotate(192.52) translate(330) rotate(180)">Cyclobalanopsis_gambleana</text>
<text class="l" transform="rotate(194.04) translate(330) rotate(180)">Cyclobalanopsis_glauca</text>
<text class="l" transform="rotate(195.56) translate(330) rotate(180)">Lithocarpus_hancei</text>
<text class="l" transform="rotate(197.08) translate(330) rotate(180)">Lithocarpus_variolosus</text>
<text class="l" transform="rotate(198.6) translate(330) rotate(180)">Lithocarpus_sp.</text>
<text class="l" transform="rotate(200.12) translate(330) rotate(180)">Lithocarpus_pachyphyllus</text>
<text class="l" transform="rotate(201.64) translate(330) rotate(180)">Lithocarpus_craibianus</text>
<text class="l" transform="rotate(203.16) translate(330) rotate(180)">Quercus_kongshanensis</text>
<text class="l" transform="rotate(204.68) translate(330) rotate(180)">Betula_cylindrostachya</text>
<text class="l" transform="rotate(206.2) translate(330) rotate(180)">Alnus_nepalensis</text>
<text class="l" transform="rotate(207.72) translate(330) rotate(180)">Juglans_regia</text>
<text class="l" transform="rotate(209.24) translate(330) rotate(180)">Desmodium_podocarpum</text>
<text class="l" transform="rotate(210.76) translate(330) rotate(180)">Campylotropis_sp.</text>
<text class="l" transform="rotate(212.28) translate(330) rotate(180)">Millettia_sp.</text>
<text class="l" transform="rotate(213.8) translate(330) rotate(180)">Polygala_arillata</text>
<text class="l" transform="rotate(215.32) translate(330) rotate(180)">Populus_wilsonii</text>
<text class="l" transform="rotate(216.84) translate(330) rotate(180)">Populus_yunnanensis</text>
<text class="l" transform="rotate(218.36) translate(330) rotate(180)">Salix_sp.</text>
<text class="l" transform="rotate(219.88) translate(330) rotate(180)">Hypericum_sp.</text>
<text class="l" transform="rotate(221.4) translate(330) rotate(180)">Garcinia_esculenta</text>
<text class="l" transform="rotate(222.92) translate(330) rotate(180)">Mallotus_nepalensis</text>
<text class="l" transform="rotate(224.44) translate(330) rotate(180)">Elaeocarpus_prunifolioides</text>
<text class="l" transform="rotate(225.96) translate(330) rotate(180)">Elaeocarpus_balansae</text>
<text class="l" transform="rotate(227.48) translate(330) rotate(180)">Elaeocarpus_decipiens</text>
<text class="l" transform="rotate(229) translate(330) rotate(180)">Sloanea_sterculiacea</text>
<text class="l" transform="rotate(230.52) translate(330) rotate(180)">Staphylea_sp.</text>
<text class="l" transform="rotate(232.04) translate(330) rotate(180)">Euonymus_sp.</text>
<text class="l" transform="rotate(233.56) translate(330) rotate(180)">Euonymus_frigidus</text>
<text class="l" transform="rotate(235.08) translate(330) rotate(180)">Celastrus_hirsutus</text>
<text class="l" transform="rotate(236.6) translate(330) rotate(180)">Zanthoxylum_oxyphyllum</text>
<text class="l" transform="rotate(238.12) translate(330) rotate(180)">Toddalia_asiatica</text>
<text class="l" transform="rotate(239.64) translate(330) rotate(180)">Skimmia_sp.</text>
<text class="l" transform="rotate(241.16) translate(330) rotate(180)">Skimmia_arborescens</text>
<text class="l" transform="rotate(242.68) translate(330) rotate(180)">Toona_ciliata</text>
<text class="l" transform="rotate(244.2) translate(330) rotate(180)">Picrasma_chinensis</text>
<text class="l" transform="rotate(245.72) translate(330) rotate(180)">Acer_oliverianum</text>
<text class="l" transform="rotate(247.24) translate(330) rotate(180)">Acer_davidii</text>
<text class="l" transform="rotate(248.76) translate(330) rotate(180)">Acer_laevigatum</text>
<text class="l" transform="rotate(250.28) translate(330) rotate(180)">Acer_sp3.</text>
<text class="l" transform="rotate(251.8) translate(330) rotate(180)">Acer_sp2.</text>
<text class="l" transform="rotate(253.32) translate(330) rotate(180)">Acer_sp1.</text>
<text class="l" transform="rotate(254.84) translate(330) rotate(180)">Toxicodendron_griffithii</text>
<text class="l" transform="rotate(256.36) translate(330) rotate(180)">Daphne_papyracea</text>
<text class="l" transform="rotate(257.88) translate(330) rotate(180)">Daphne_bholua</text>
<text class="l" transform="rotate(259.4) translate(330) rotate(180)">Dipentodon_sinicus</text>
<text class="l" transform="rotate(260.92) translate(330) rotate(180)">Turpinia_affinis</text>
<text class="l" transform="rotate(262.44) translate(330) rotate(180)">Dobinea_delavayi</text>
<text class="l" transform="rotate(263.96) translate(330) rotate(180)">Medinilla_erythrophylla</text>
<text class="l" transform="rotate(265.48) translate(330) rotate(180)">Oxyspora_paniculata</text>
<text class="l" transform="rotate(267) translate(330) rotate(180)">Plagiopetalum_esquirolii</text>
<text class="l" transform="rotate(268.52) translate(330) rotate(180)">Ampelopsis_bodinieri</text>
<text transform="rotate(270.04) translate(330)">Parthenocissus_semicordata</text>
<text transform="rotate(271.56) translate(330)">Tetrastigma_hypoglaucum</text>
<text transform="rotate(273.08) translate(330)">Corylopsis_sp.</text>
<text transform="rotate(274.6) translate(330)">Corylopsis_glaucescens</text>
<text transform="rotate(276.12) translate(330)">Exbucklandia_populnea</text>
<text transform="rotate(277.64) translate(330)">Rhodoleia_forrestii</text>
<text transform="rotate(279.16) translate(330)">Itea_chinensis</text>
<text transform="rotate(280.68) translate(330)">Pachysandra_axillaris</text>
<text transform="rotate(282.2) translate(330)">Sarcococca_hookeriana</text>
<text transform="rotate(283.72) translate(330)">Tetracentron_sinense</text>
<text transform="rotate(285.24) translate(330)">Meliosma_dilleniifolia</text>
<text transform="rotate(286.76) translate(330)">Berberis_sp.</text>
<text transform="rotate(288.28) translate(330)">Mahonia_lancasteri</text>
<text transform="rotate(289.8) translate(330)">Holboellia_fargesii</text>
<text transform="rotate(291.32) translate(330)">Decaisnea_insignis</text>
<text transform="rotate(292.84) translate(330)">Stephania_japonica</text>
<text transform="rotate(294.36) translate(330)">Fargesia_sp.</text>
<text transform="rotate(295.88) translate(330)">Fargesia_gongshanensis</text>
<text transform="rotate(297.4) translate(330)">Fargesia_sp.</text>
<text transform="rotate(298.92) translate(330)">Fargesia_praecox</text>
<text transform="rotate(300.44) translate(330)">Yushania_farcticaulis</text>
<text transform="rotate(301.96) translate(330)">Chimonobambusa_armata</text>
<text transform="rotate(303.48) translate(330)">Chimonocalamus_pallens</text>
<text transform="rotate(305) translate(330)">Gaoligongshania_megalothyrsa</text>
<text transform="rotate(306.52) translate(330)">Smilax_sp.</text>
<text transform="rotate(308.04) translate(330)">Smilax_myrtillus</text>
<text transform="rotate(309.56) translate(330)">Smilax_bockii</text>
<text transform="rotate(311.08) translate(330)">Rhaphidophora_sp.</text>
<text transform="rotate(312.6) translate(330)">Rhaphidophora_hookeri</text>
<text transform="rotate(314.12) translate(330)">Rhaphidophora_decursiva</text>
<text transform="rotate(315.64) translate(330)">Litsea_populifolia</text>
<text transform="rotate(317.16) translate(330)">Litsea_gongshanensis</text>
<text transform="rotate(318.68) translate(330)">Litsea_cubeba</text>
<text transform="rotate(320.2) translate(330)">Litsea_rubescens</text>
<text transform="rotate(321.72) translate(330)">Neolitsea_homilantha</text>
<text transform="rotate(323.24) translate(330)">Lindera_thunbergii</text>
<text transform="rotate(324.76) translate(330)">Lindera_sp.</text>
<text transform="rotate(326.28) translate(330)">Lindera_nacusua</text>
<text transform="rotate(327.8) translate(330)">Lindera_floribunda</text>
<text transform="rotate(329.32) translate(330)">Lindera_obtusiloba</text>
<text transform="rotate(330.84) translate(330)">Cinnamomum_tonkinense</text>
<text transform="rotate(332.36) translate(330)">Machilus_bonii</text>
<text transform="rotate(333.88) translate(330)">Machilus_yunnanensis</text>
<text transform="rotate(335.4) translate(330)">Machilus_sp.</text>
<text transform="rotate(336.92) translate(330)">Machilus_longipedicellata</text>
<text transform="rotate(338.44) translate(330)">Machilus_gongshanensis</text>
<text transform="rotate(339.96) translate(330)">Phoebe_sp.</text>
<text transform="rotate(341.48) translate(330)">Magnolia_grandiflora</text>
<text transform="rotate(343) translate(330)">Manglietia_sp.</text>
<text transform="rotate(344.52) translate(330)">Manglietia_insignis</text>
<text transform="rotate(346.04) translate(330)">Manglietia_hookeri</text>
<text transform="rotate(347.56) translate(330)">Magnolia_campbellii</text>
<text transform="rotate(349.08) translate(330)">Parakmeria_nitida</text>
<text transform="rotate(350.6) translate(330)">Piper_wallichii</text>
<text transform="rotate(352.12) translate(330)">Aristolochia_moupinensis</text>
<text transform="rotate(353.64) translate(330)">Schisandra_sp.</text>
<text transform="rotate(355.16) translate(330)">Schisandra_neglecta</text>
<text transform="rotate(356.68) translate(330)">Schisandra_rubriflora</text>
<text transform="rotate(358.2) translate(330)">Illicium_wardii</text>
<text transform="rotate(359.72) translate(330)">Illicium_simonsii</text>
</g>
</g>
<g id="clade-labels">
<text class="cl" x="177" y="394" text-anchor="middle">Superrosids</text>
<text class="cl" x="413" y="626" text-anchor="middle">Superasterids</text>
<text class="cl" x="530" y="393">Basal angiosperms</text>
<text class="cl" text-anchor="middle" dominant-baseline="central" transform="translate(460,195) rotate(-72)">Basal eudicots</text>
<text class="cl" text-anchor="middle" dominant-baseline="central" transform="translate(501,231) rotate(-58)">Monocots</text>
<text class="cl" text-anchor="middle" dominant-baseline="central" transform="translate(554,313) rotate(-31)">Magnoliids</text>
</g>
</svg>
